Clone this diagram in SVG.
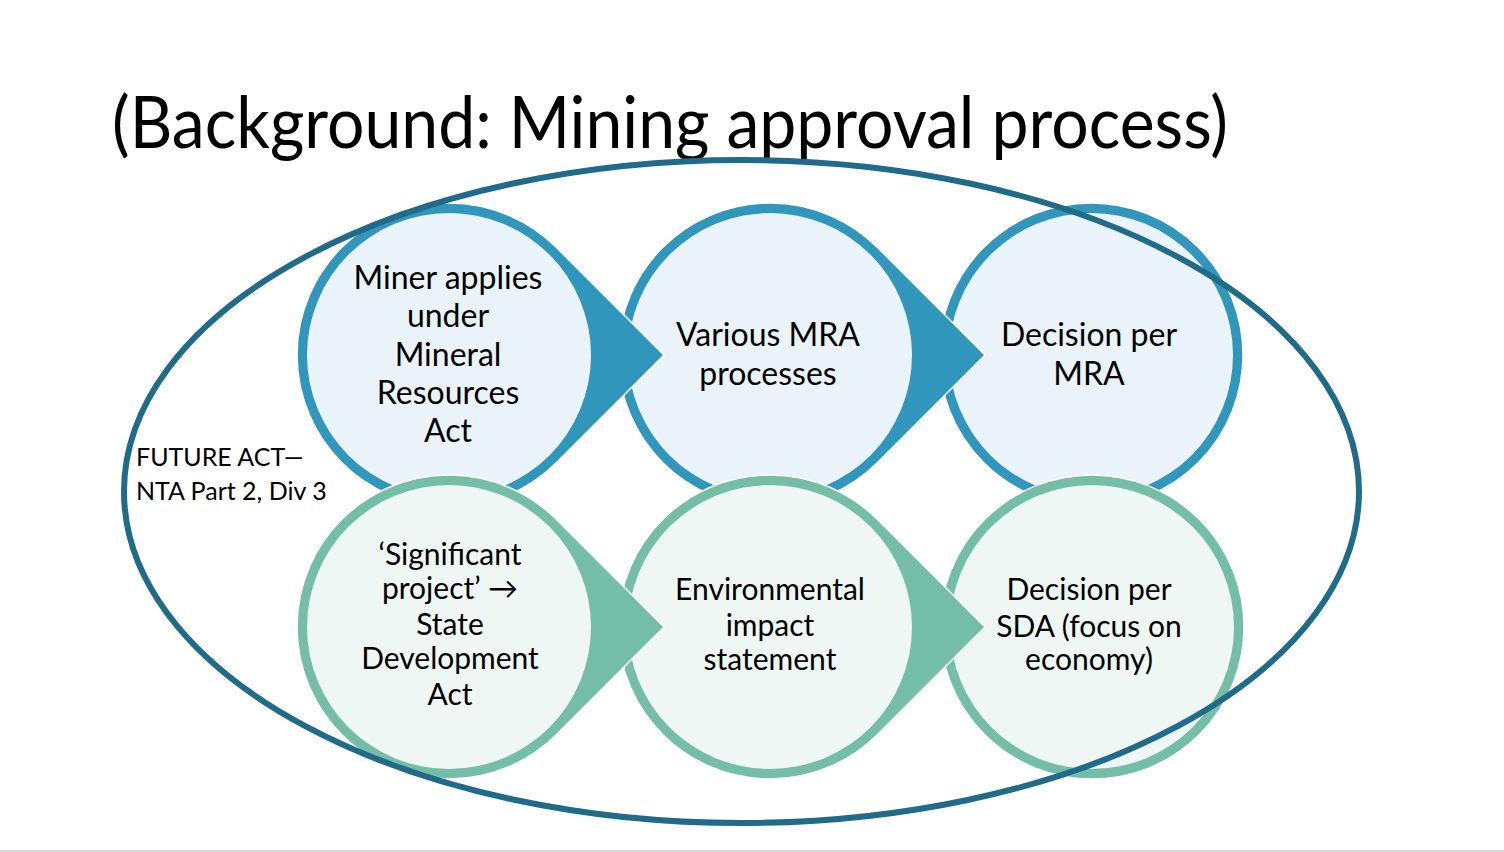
<svg xmlns="http://www.w3.org/2000/svg" width="1504" height="852" viewBox="0 0 1504 852">
  <style>
    .t { font-family: Lato, "Open Sans", "Liberation Sans", sans-serif; fill: #000; }
    .lbl { font-size: 32px; text-anchor: middle; }
    .lbl2 { font-size: 30px; text-anchor: middle; }
    .blue-outer { fill: #3096bc; stroke: #ffffff; stroke-width: 1.5; }
    .blue-inner { fill: #eaf3f9; }
    .green-outer { fill: #74bda7; stroke: #ffffff; stroke-width: 1.5; }
    .green-inner { fill: #eef7f4; }
    .ell { fill: none; stroke: #1f6b89; stroke-width: 6; }
  </style>
  <defs>
    <path id="drop" d="M215,0 L107.5,-107.5 A152,152 0 1 0 107.5,107.5 Z"/>
  </defs>
  <rect x="0" y="0" width="1504" height="852" fill="#ffffff"/>
  <rect x="0" y="850" width="1504" height="2" fill="#d9d9d9"/>

  <g id="title">
    <text class="t" x="112" y="148" font-size="72" textLength="1116" lengthAdjust="spacingAndGlyphs">(Background: Mining approval process)</text>
  </g>

  <!-- top row, drawn right to left so arrow tips overlap next circle -->
  <g id="node3" transform="translate(1091,355)">
    <circle r="152" class="blue-outer"/>
    <circle r="142" class="blue-inner"/>
    <text class="t lbl" x="-2" y="-9">Decision per</text>
    <text class="t lbl" x="-2" y="30">MRA</text>
  </g>
  <g id="node2" transform="translate(770,355)">
    <use href="#drop" class="blue-outer"/>
    <circle r="142" class="blue-inner"/>
    <text class="t lbl" x="-2" y="-9">Various MRA</text>
    <text class="t lbl" x="-2" y="30">processes</text>
  </g>
  <g id="node1" transform="translate(449,355)">
    <use href="#drop" class="blue-outer"/>
    <circle r="142" class="blue-inner"/>
    <text class="t lbl" x="-1" y="-66">Miner applies</text>
    <text class="t lbl" x="-1" y="-28">under</text>
    <text class="t lbl" x="-1" y="11">Mineral</text>
    <text class="t lbl" x="-1" y="49">Resources</text>
    <text class="t lbl" x="-1" y="87">Act</text>
  </g>

  <!-- bottom row -->
  <g id="node6" transform="translate(1092,627)">
    <circle r="152" class="green-outer"/>
    <circle r="142" class="green-inner"/>
    <text class="t lbl2" x="-3" y="-27">Decision per</text>
    <text class="t lbl2" x="-3" y="10">SDA (focus on</text>
    <text class="t lbl2" x="-3" y="43">economy)</text>
  </g>
  <g id="node5" transform="translate(770,627)">
    <use href="#drop" class="green-outer"/>
    <circle r="142" class="green-inner"/>
    <text class="t lbl2" x="0" y="-27">Environmental</text>
    <text class="t lbl2" x="0" y="9">impact</text>
    <text class="t lbl2" x="0" y="43">statement</text>
  </g>
  <g id="node4" transform="translate(449,627)">
    <use href="#drop" class="green-outer"/>
    <circle r="142" class="green-inner"/>
    <text class="t lbl2" x="1" y="-62">‘Significant</text>
    <text class="t lbl2" x="1" y="-28">project’ →</text>
    <text class="t lbl2" x="1" y="8">State</text>
    <text class="t lbl2" x="1" y="42">Development</text>
    <text class="t lbl2" x="1" y="78">Act</text>
  </g>

  <g id="future-act">
    <ellipse class="ell" cx="741.5" cy="491.5" rx="617.5" ry="331.5"/>
    <text class="t" x="136" y="466" font-size="25">FUTURE ACT—</text>
    <text class="t" x="136" y="500" font-size="25">NTA Part 2, Div 3</text>
  </g>
</svg>
